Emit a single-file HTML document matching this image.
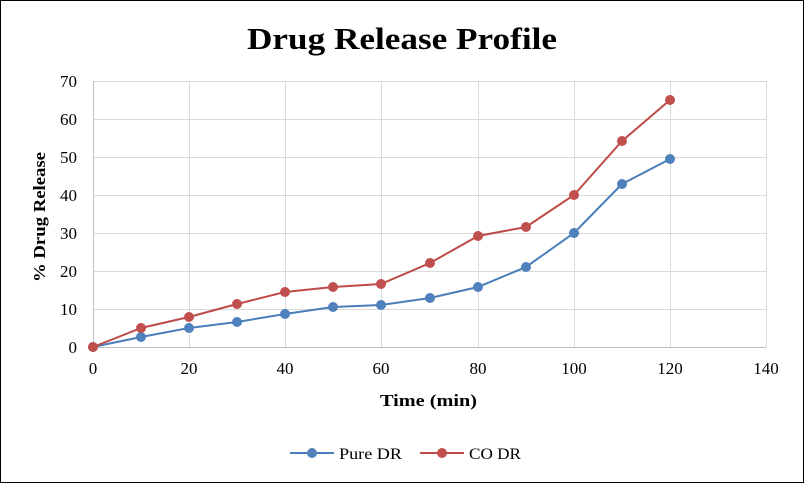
<!DOCTYPE html>
<html><head><meta charset="utf-8"><style>
html,body{margin:0;padding:0;background:#fff;}
svg{display:block;}
text{font-family:"Liberation Serif",serif;}
</style></head><body>
<svg width="804" height="483" viewBox="0 0 804 483" xmlns="http://www.w3.org/2000/svg">
<rect x="0.5" y="0.5" width="803" height="482" fill="#fff" stroke="#000" stroke-width="1"/>
<text x="247" y="49" font-size="31" font-weight="bold" fill="#000" textLength="310" lengthAdjust="spacingAndGlyphs">Drug Release Profile</text>
<g stroke="#d9d9d9" stroke-width="1">
<line x1="93" y1="81.5" x2="766" y2="81.5"/>
<line x1="93" y1="119.5" x2="766" y2="119.5"/>
<line x1="93" y1="157.5" x2="766" y2="157.5"/>
<line x1="93" y1="195.5" x2="766" y2="195.5"/>
<line x1="93" y1="233.5" x2="766" y2="233.5"/>
<line x1="93" y1="271.5" x2="766" y2="271.5"/>
<line x1="93" y1="309.5" x2="766" y2="309.5"/>
<line x1="189.5" y1="81" x2="189.5" y2="347"/>
<line x1="285.5" y1="81" x2="285.5" y2="347"/>
<line x1="381.5" y1="81" x2="381.5" y2="347"/>
<line x1="478.5" y1="81" x2="478.5" y2="347"/>
<line x1="574.5" y1="81" x2="574.5" y2="347"/>
<line x1="670.5" y1="81" x2="670.5" y2="347"/>
<line x1="766.5" y1="81" x2="766.5" y2="347"/>
</g>
<line x1="93.5" y1="81" x2="93.5" y2="347" stroke="#bfbfbf"/>
<line x1="93" y1="347.5" x2="766" y2="347.5" stroke="#bfbfbf"/>
<g font-size="17" fill="#000" text-anchor="end">
<text x="77" y="87">70</text><text x="77" y="125">60</text><text x="77" y="163">50</text>
<text x="77" y="201">40</text><text x="77" y="239">30</text><text x="77" y="277">20</text>
<text x="77" y="315">10</text><text x="77" y="353">0</text>
</g>
<g font-size="17" fill="#000" text-anchor="middle">
<text x="93" y="374">0</text><text x="189" y="374">20</text><text x="285" y="374">40</text>
<text x="381" y="374">60</text><text x="478" y="374">80</text><text x="574" y="374">100</text>
<text x="670" y="374">120</text><text x="766" y="374">140</text>
</g>
<text x="380" y="406" font-size="17" font-weight="bold" textLength="97" lengthAdjust="spacingAndGlyphs">Time (min)</text>
<text transform="translate(45,282) rotate(-90)" font-size="17" font-weight="bold" textLength="130" lengthAdjust="spacingAndGlyphs">% Drug Release</text>
<polyline fill="none" stroke="#4a7ebb" stroke-width="2" points="93,347 141,337 189,328 237,322 285,314 333,307 381,305 430,298 478,287 526,267 574,233 622,184 670,159"/>
<polyline fill="none" stroke="#be4b48" stroke-width="2" points="93,347 141,328 189,317 237,304 285,292 333,287 381,284 430,263 478,236 526,227 574,195 622,141 670,100"/>
<g fill="#4f81bd">
<circle cx="93" cy="347" r="5"/><circle cx="141" cy="337" r="5"/><circle cx="189" cy="328" r="5"/><circle cx="237" cy="322" r="5"/><circle cx="285" cy="314" r="5"/><circle cx="333" cy="307" r="5"/><circle cx="381" cy="305" r="5"/><circle cx="430" cy="298" r="5"/><circle cx="478" cy="287" r="5"/><circle cx="526" cy="267" r="5"/><circle cx="574" cy="233" r="5"/><circle cx="622" cy="184" r="5"/><circle cx="670" cy="159" r="5"/>
</g>
<g fill="#c0504d">
<circle cx="93" cy="347" r="5"/><circle cx="141" cy="328" r="5"/><circle cx="189" cy="317" r="5"/><circle cx="237" cy="304" r="5"/><circle cx="285" cy="292" r="5"/><circle cx="333" cy="287" r="5"/><circle cx="381" cy="284" r="5"/><circle cx="430" cy="263" r="5"/><circle cx="478" cy="236" r="5"/><circle cx="526" cy="227" r="5"/><circle cx="574" cy="195" r="5"/><circle cx="622" cy="141" r="5"/><circle cx="670" cy="100" r="5"/>
</g>
<line x1="290" y1="453" x2="334" y2="453" stroke="#4a7ebb" stroke-width="2"/>
<circle cx="312" cy="453" r="5" fill="#4f81bd"/>
<text x="339" y="459" font-size="16" textLength="63" lengthAdjust="spacingAndGlyphs">Pure DR</text>
<line x1="420" y1="453" x2="464" y2="453" stroke="#be4b48" stroke-width="2"/>
<circle cx="442" cy="453" r="5" fill="#c0504d"/>
<text x="469" y="459" font-size="16" textLength="52" lengthAdjust="spacingAndGlyphs">CO DR</text>
</svg>
</body></html>
